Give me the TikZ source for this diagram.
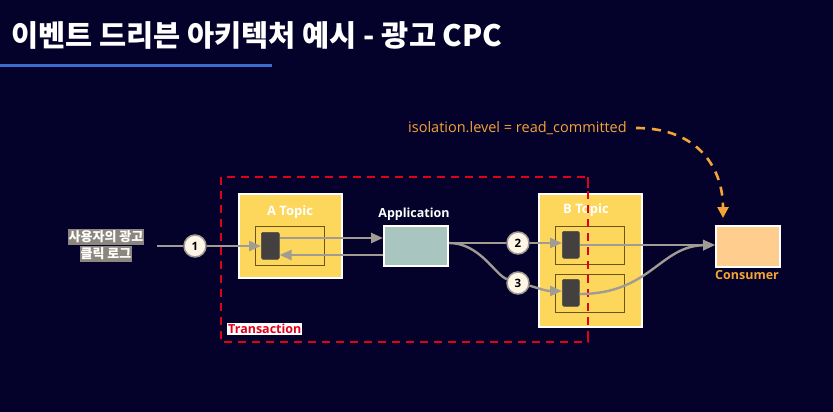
\documentclass[tikz,border=0pt]{standalone}
\usepackage{fontspec}
\setmainfont{Open Sans}
\newfontfamily\krfont{Noto Sans CJK KR}
\usetikzlibrary{arrows.meta}
\definecolor{bg}{HTML}{04012A}
\definecolor{titleline}{HTML}{3D6AD2}
\definecolor{topicyellow}{HTML}{FCD75B}
\definecolor{innerline}{HTML}{6B5418}
\definecolor{blockgray}{HTML}{444040}
\definecolor{flowgray}{HTML}{A09C94}
\definecolor{appfill}{HTML}{A8C6BF}
\definecolor{consfill}{HTML}{FFCD8E}
\definecolor{orangetxt}{HTML}{F4A437}
\definecolor{txred}{HTML}{E3001B}
\definecolor{labelbg}{HTML}{8C877E}
\definecolor{circfill}{HTML}{FFF6E8}
\tikzset{
  boxbase/.style={draw=white, line width=2pt, inner sep=0pt, anchor=north west},
  topicbox/.style={boxbase, fill=topicyellow},
  partbox/.style={draw=innerline, line width=1.2pt, inner sep=0pt, anchor=north west},
  msgblock/.style={fill=blockgray, draw=black!70, line width=0.6pt, rounded corners=1.5pt, inner sep=0pt, anchor=north west},
  flow/.style={draw=flowgray, line width=2.4pt, -{Triangle[length=12pt,width=10pt]}},
  flowplain/.style={draw=flowgray, line width=2.4pt},
  stepnum/.style={circle, fill=circfill, draw=flowgray, line width=1.5pt, minimum size=22pt, inner sep=0pt, font=\bfseries\fontsize{11.5}{12}\selectfont, text=black},
  boxlabel/.style={text=white, font=\bfseries\fontsize{13}{15}\selectfont},
  srclabel/.style={fill=labelbg, text=white, font=\krfont\bfseries\fontsize{13}{14}\selectfont, inner xsep=1pt, inner ysep=2pt},
  txborder/.style={draw=txred, line width=2.6pt, dash pattern=on 8pt off 6pt},
}
\begin{document}
\begin{tikzpicture}[x=1pt,y=-1pt]
  \fill[bg] (0,0) rectangle (833,412);
  \useasboundingbox (0,0) rectangle (833,412);

  % heading
  \node[anchor=west, text=white, font=\krfont\bfseries\fontsize{29.5}{32}\selectfont, inner sep=0pt] (title) at (11,35) {이벤트 드리븐 아키텍처 예시 - 광고 CPC};
  \fill[titleline] (0,64) rectangle (272,67.5);

  % transaction boundary
  \draw[txborder] (221,177) rectangle (588,342);

  % A topic
  \node[topicbox, minimum width=103pt, minimum height=84pt] (atopic) at (238,193) {};
  \node[boxlabel] (alabel) at (290,212) {A Topic};
  \node[partbox, minimum width=69pt, minimum height=39pt] (apart) at (255,226) {};
  \node[msgblock, minimum width=18pt, minimum height=27pt] (ablk) at (261,232) {};

  % application
  \node[boxbase, fill=appfill, minimum width=64pt, minimum height=40pt] (app) at (383,225) {};
  \node[boxlabel, font=\bfseries\fontsize{12.5}{15}\selectfont] (applabel) at (414,214) {Application};

  % B topic
  \node[topicbox, minimum width=103pt, minimum height=133pt] (btopic) at (538,193) {};
  \node[boxlabel] (blabel) at (586,210) {B Topic};
  \node[partbox, minimum width=69pt, minimum height=38pt] (bpart1) at (555,226) {};
  \node[partbox, minimum width=69pt, minimum height=38pt] (bpart2) at (555,274) {};
  \node[msgblock, minimum width=17pt, minimum height=27pt] (bblk1) at (562,231) {};
  \node[msgblock, minimum width=17pt, minimum height=27pt] (bblk2) at (562,279) {};

  % the right half of the dashed boundary runs over the B topic
  \draw[txborder] (588,177) -- (588,342);

  % consumer
  \node[boxbase, fill=consfill, minimum width=64pt, minimum height=41pt] (cons) at (715,225) {};
  \node[text=orangetxt, font=\bfseries\fontsize{12.5}{14}\selectfont] (conslabel) at (747,275) {Consumer};

  % click log source
  \node[srclabel] (src1) at (106,237) {사용자의 광고};
  \node[srclabel, anchor=north] (src2) at (src1.south) {클릭 로그};
  \coordinate (srcout) at (157,246);

  % step markers
  \node[stepnum] (s1) at (195,246) {1};
  \node[stepnum] (s2) at (518,243) {2};
  \node[stepnum] (s3) at (518,283) {3};

  % message flow
  \draw[flowplain] (srcout) -- (s1);
  \draw[flow] (s1) -- (ablk.west |- s1);
  \draw[flow] (ablk.east |- 0,238) -- (app.west |- 0,238);
  \draw[flow] (app.west |- 0,255) -- (ablk.east |- 0,255);
  \draw[flowplain] (app.east |- s2) -- (s2);
  \draw[flow] (s2) -- (bblk1.west |- s2);
  \draw[flowplain] (app.east |- s2) .. controls (480,243) and (495,275) .. (s3);
  \draw[flow] (s3) .. controls (535,287) and (545,291) .. (bblk2.west |- 0,291);
  \draw[flow] (bblk1.east |- 0,245) -- (cons.west |- 0,245);
  \draw[flow] (bblk2.east |- 0,294) .. controls (650,294) and (660,246) .. (cons.west |- 0,245);

  % isolation setting
  \node[anchor=west, text=orangetxt, font=\fontsize{14.5}{16}\selectfont, inner sep=0pt] (iso) at (408,128) {isolation.level = read\_committed};
  \coordinate (isostart) at (636,128);
  \coordinate (isotip) at (723,218);
  \draw[orangetxt, line width=2.6pt, dash pattern=on 9pt off 7pt, -{Triangle[length=11pt,width=11pt]}]
    (isostart) .. controls (700,128) and (723,170) .. (isotip);

  % transaction tag
  \node[fill=white, text=txred, font=\bfseries\fontsize{12.5}{14}\selectfont, inner sep=1pt, anchor=south west] (txlabel) at (227,335) {Transaction};
\end{tikzpicture}
\end{document}
